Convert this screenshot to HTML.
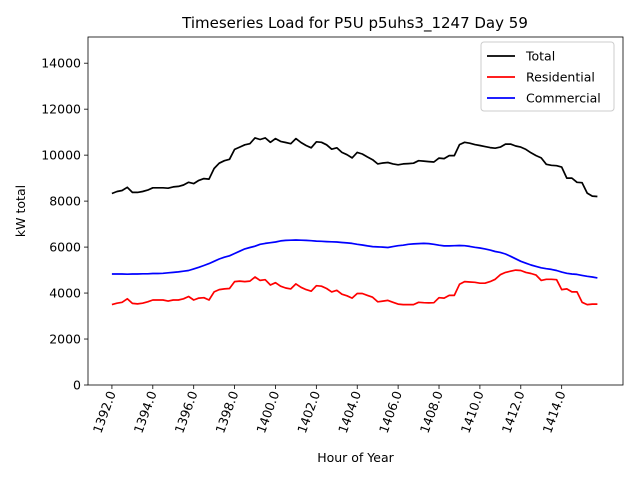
<!DOCTYPE html>
<html><head><meta charset="utf-8"><style>
body{margin:0;background:#fff;font-family:"DejaVu Sans","Liberation Sans",sans-serif}
</style></head><body>
<svg id="chart" width="640" height="480" xmlns="http://www.w3.org/2000/svg"></svg>
<script>
const hourStart = 1392;
const hourStep = 0.25;
const xTickValues = [1392,1394,1396,1398,1400,1402,1404,1406,1408,1410,1412,1414];
const yTickValues = [0,2000,4000,6000,8000,10000,12000,14000];
const totalLoad = [8330,8420,8460,8600,8380,8380,8420,8480,8580,8580,8580,8560,8620,8640,8700,8820,8760,8900,8980,8960,9420,9650,9760,9820,10250,10350,10450,10500,10750,10680,10750,10560,10720,10600,10550,10500,10720,10550,10420,10320,10580,10560,10450,10260,10320,10120,10020,9880,10120,10050,9920,9800,9620,9660,9680,9620,9580,9620,9630,9650,9760,9740,9720,9700,9870,9850,9980,9980,10460,10560,10520,10460,10420,10370,10330,10300,10350,10480,10480,10400,10350,10250,10100,9980,9880,9600,9560,9540,9480,9000,9000,8820,8800,8350,8220,8200];
const residentialLoad = [3500,3560,3600,3750,3550,3530,3560,3620,3700,3700,3700,3650,3700,3700,3750,3850,3700,3780,3800,3700,4050,4150,4180,4200,4500,4520,4500,4520,4700,4550,4580,4350,4450,4300,4220,4180,4400,4250,4150,4080,4320,4300,4200,4050,4120,3950,3880,3780,3980,3980,3900,3820,3620,3650,3680,3600,3520,3500,3500,3500,3600,3580,3570,3580,3800,3780,3900,3900,4380,4500,4480,4470,4430,4430,4500,4600,4800,4900,4950,5000,4980,4900,4850,4780,4550,4600,4600,4580,4150,4180,4050,4050,3600,3500,3520,3520];
const commercialLoad = [4830,4830,4830,4820,4830,4830,4840,4840,4850,4850,4860,4880,4900,4920,4950,4980,5050,5120,5200,5280,5380,5480,5560,5620,5720,5820,5920,5980,6040,6120,6160,6190,6220,6270,6290,6300,6310,6300,6290,6280,6260,6250,6240,6230,6220,6200,6180,6160,6120,6090,6050,6020,6010,6000,5980,6020,6060,6080,6120,6140,6150,6160,6150,6120,6080,6050,6050,6060,6070,6060,6030,5990,5960,5920,5870,5810,5770,5700,5600,5490,5380,5300,5220,5160,5100,5060,5030,4980,4910,4860,4830,4810,4770,4730,4700,4660];

const L=88,R=623,T=37,B=385;
const xMin=1390.83,xMax=1417.0,yMin=0,yMax=15140;
const X=v=>L+(v-xMin)/(xMax-xMin)*(R-L);
const Y=v=>B-(v-yMin)/(yMax-yMin)*(B-T);
const svg=document.getElementById('chart');
const NS='http://www.w3.org/2000/svg';
function mk(tag,attrs,parent){const e=document.createElementNS(NS,tag);for(const k in attrs)e.setAttribute(k,attrs[k]);(parent||svg).appendChild(e);return e;}

const title=mk('text',{x:355,y:28,'text-anchor':'middle','font-size':15,fill:'#000'});


title.textContent='Timeseries Load for P5U p5uhs3_1247  Day 59';

yTickValues.forEach(v=>{
  const t=mk('line',{x1:L-4,x2:L,y1:Y(v),y2:Y(v),stroke:'#000','stroke-width':0.8});
  
  
  const lb=mk('text',{x:L-7,y:Y(v)+4.5,'text-anchor':'end','font-size':12.5,fill:'#000'});
  
  
  lb.textContent=v;
});
xTickValues.forEach(v=>{
  const t=mk('line',{x1:X(v),x2:X(v),y1:B,y2:B+4,stroke:'#000','stroke-width':0.8});
  
  
  const lb=mk('text',{transform:`translate(${X(v)+4},${B+8}) rotate(-70)`,'text-anchor':'end','font-size':12.5,fill:'#000'});
  
  
  lb.textContent=v.toFixed(1);
});

const series=[[totalLoad,'#000','total-line'],[residentialLoad,'#f00','residential-line'],[commercialLoad,'#00f','commercial-line']];
series.forEach(([arr,col,name])=>{
  const pts=arr.map((v,i)=>X(hourStart+i*hourStep).toFixed(1)+','+Y(v).toFixed(1)).join(' ');
  const p=mk('polyline',{points:pts,fill:'none',stroke:col,'stroke-width':1.7,'stroke-linejoin':'round'});
  
  
});

const frame=mk('rect',{x:L,y:T,width:R-L,height:B-T,fill:'none',stroke:'#000','stroke-width':0.8});



const xl=mk('text',{x:(L+R)/2,y:462,'text-anchor':'middle','font-size':12.5,fill:'#000'});


xl.textContent='Hour of Year';
const yl=mk('text',{transform:'translate(25,211) rotate(-90)','text-anchor':'middle','font-size':12.5,fill:'#000'});


yl.textContent='kW total';

const lg=mk('g',{});


mk('rect',{x:481,y:42,width:133,height:69,rx:3,fill:'#fff',stroke:'#ccc','stroke-width':1},lg);
[['Total','#000'],['Residential','#f00'],['Commercial','#00f']].forEach(([n,c],i)=>{
  const g=mk('g',{},lg);
  
  
  const y=56+i*21;
  mk('line',{x1:487,x2:515,y1:y,y2:y,stroke:c,'stroke-width':1.7},g);
  const t=mk('text',{x:526,y:y+4.5,'font-size':12.5,fill:'#000'},g);
  t.textContent=n;
});
</script>
</body></html>
